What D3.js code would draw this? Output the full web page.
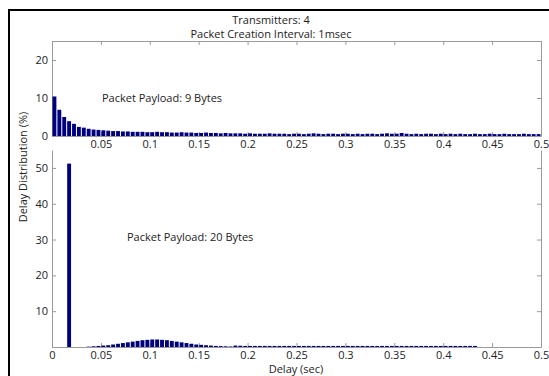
<!DOCTYPE html>
<html>
<head>
<meta charset="utf-8">
<script src="https://cdnjs.cloudflare.com/ajax/libs/d3/7.8.5/d3.min.js"></script>
<style>
  body { margin: 0; background: #fff; }
  text { font-family: "Open Sans", sans-serif; fill: #222; }
</style>
</head>
<body>
<div class="d3Chart"></div>
<script>
// bin width 0.005 sec, 100 bins from 0 to 0.5
var binWidth = 0.005;
var xTicks = [0, 0.05, 0.1, 0.15, 0.2, 0.25, 0.3, 0.35, 0.4, 0.45, 0.5];
var topYTicks = [0, 10, 20];
var bottomYTicks = [0, 10, 20, 30, 40, 50];

// Packet Payload: 9 Bytes (%)
var payload9 = [
  10.4, 6.9, 5.0, 3.9, 3.2, 2.4, 2.2, 1.9, 1.7, 1.6,
  1.5, 1.4, 1.3, 1.3, 1.2, 1.2, 1.1, 1.1, 1.1, 1.0,
  1.0, 1.1, 1.0, 1.0, 0.9, 0.9, 1.0, 0.9, 0.9, 0.8,
  0.8, 0.9, 0.8, 0.8, 0.7, 0.8, 0.7, 0.7, 0.7, 0.6,
  0.7, 0.6, 0.6, 0.6, 0.7, 0.6, 0.6, 0.6, 0.5, 0.6,
  0.6, 0.5, 0.6, 0.7, 0.6, 0.5, 0.6, 0.6, 0.5, 0.6,
  0.6, 0.5, 0.6, 0.5, 0.6, 0.6, 0.5, 0.6, 0.7, 0.6,
  0.6, 0.8, 0.6, 0.5, 0.6, 0.5, 0.6, 0.6, 0.5, 0.6,
  0.5, 0.6, 0.5, 0.6, 0.5, 0.5, 0.6, 0.5, 0.5, 0.6,
  0.5, 0.5, 0.6, 0.5, 0.5, 0.5, 0.6, 0.5, 0.5, 0.5
];

// Packet Payload: 20 Bytes (%)
var payload20 = [
  0, 0, 0, 51.2, 0, 0, 0, 0.1, 0.2, 0.3,
  0.4, 0.5, 0.7, 0.9, 1.1, 1.3, 1.5, 1.7, 1.9, 2.0,
  2.1, 2.1, 2.0, 1.9, 1.7, 1.5, 1.3, 1.1, 0.9, 0.7,
  0.6, 0.5, 0.4, 0.3, 0.25, 0.2, 0.15, 0.4, 0.35, 0.3,
  0.3, 0.3, 0.3, 0.3, 0.3, 0.3, 0.3, 0.3, 0.3, 0.3,
  0.3, 0.3, 0.3, 0.3, 0.3, 0.3, 0.3, 0.3, 0.3, 0.3,
  0.3, 0.3, 0.3, 0.3, 0.3, 0.3, 0.3, 0.3, 0.3, 0.3,
  0.3, 0.3, 0.3, 0.3, 0.3, 0.3, 0.3, 0.3, 0.3, 0.3,
  0.3, 0.3, 0.3, 0.3, 0.3, 0.3, 0.3, 0, 0, 0,
  0, 0, 0, 0, 0, 0, 0, 0, 0, 0
];

var width = 549;
var height = 376;
var barColor = "#00007f";
var axisColor = "#9a9a9a";

var svg = d3
  .select(".d3Chart")
  .append("svg")
  .attr("width", width)
  .attr("height", height);

// outer frame (clipped at right and bottom)
svg.append("path")
  .attr("d", "M9,376 V10 H549")
  .attr("fill", "none")
  .attr("stroke", "#000")
  .attr("stroke-width", 2);

var xScale = d3.scaleLinear().domain([0, 0.5]).range([52, 541]);
var yTop = d3.scaleLinear().domain([0, 25]).range([136, 41]);
var yBottom = d3.scaleLinear().domain([0, 55]).range([347, 150]);

function fmt(d) {
  return String(+d.toFixed(2));
}

function drawBars(data, yScale) {
  svg.append("g")
    .selectAll("rect")
    .data(data)
    .enter()
    .append("rect")
    .attr("x", (d, i) => xScale(i * binWidth) + 0.5)
    .attr("width", xScale(binWidth) - xScale(0) - 1)
    .attr("y", (d) => yScale(d))
    .attr("height", (d) => yScale(0) - yScale(d))
    .attr("fill", barColor);
}

function styleAxis(g) {
  g.selectAll(".domain").attr("stroke", axisColor);
  g.selectAll(".tick line").attr("stroke", axisColor);
  g.selectAll(".tick text")
    .style("font-family", '"Open Sans", sans-serif')
    .style("font-size", "11px")
    .attr("fill", "#222");
}

// ---- top panel ----
var t1 = svg.append("g").attr("transform", "translate(0,136)")
  .call(d3.axisBottom(xScale).tickValues(xTicks).tickSizeInner(-4).tickSizeOuter(0).tickPadding(4)
    .tickFormat((d) => (d === 0 ? "" : fmt(d))));
styleAxis(t1);
var t2 = svg.append("g").attr("transform", "translate(0,41)")
  .call(d3.axisTop(xScale).tickValues(xTicks).tickSizeInner(-4).tickSizeOuter(0).tickFormat(""));
styleAxis(t2);
var t3 = svg.append("g").attr("transform", "translate(52,0)")
  .call(d3.axisLeft(yTop).tickValues(topYTicks).tickSizeInner(-4).tickSizeOuter(0).tickPadding(4));
styleAxis(t3);
var t4 = svg.append("g").attr("transform", "translate(541,0)")
  .call(d3.axisRight(yTop).tickValues(topYTicks).tickSizeInner(-4).tickSizeOuter(0).tickFormat(""));
styleAxis(t4);
drawBars(payload9, yTop);

// ---- bottom panel ----
var b1 = svg.append("g").attr("transform", "translate(0,347)")
  .call(d3.axisBottom(xScale).tickValues(xTicks).tickSizeInner(-4).tickSizeOuter(0).tickPadding(4)
    .tickFormat(fmt));
styleAxis(b1);
var b3 = svg.append("g").attr("transform", "translate(52,0)")
  .call(d3.axisLeft(yBottom).tickValues(bottomYTicks).tickSizeInner(-4).tickSizeOuter(0).tickPadding(4)
    .tickFormat((d) => (d === 0 ? "" : d)));
styleAxis(b3);
var b4 = svg.append("g").attr("transform", "translate(541,0)")
  .call(d3.axisRight(yBottom).tickValues(bottomYTicks).tickSizeInner(-4).tickSizeOuter(0).tickFormat(""));
styleAxis(b4);
drawBars(payload20, yBottom);

// ---- texts ----
svg.append("text").attr("x", 271).attr("y", 24).attr("text-anchor", "middle")
  .style("font-size", "11px").text("Transmitters: 4");
svg.append("text").attr("x", 271).attr("y", 38).attr("text-anchor", "middle")
  .style("font-size", "11px").text("Packet Creation Interval: 1msec");
svg.append("text").attr("x", 102).attr("y", 102)
  .style("font-size", "11px").text("Packet Payload: 9 Bytes");
svg.append("text").attr("x", 127).attr("y", 241)
  .style("font-size", "11px").text("Packet Payload: 20 Bytes");
svg.append("text").attr("x", 296).attr("y", 373).attr("text-anchor", "middle")
  .style("font-size", "11px").text("Delay (sec)");
svg.append("text")
  .attr("transform", "translate(27,167) rotate(-90)")
  .attr("text-anchor", "middle")
  .style("font-size", "11px")
  .text("Delay Distribution (%)");
</script>
</body>
</html>
